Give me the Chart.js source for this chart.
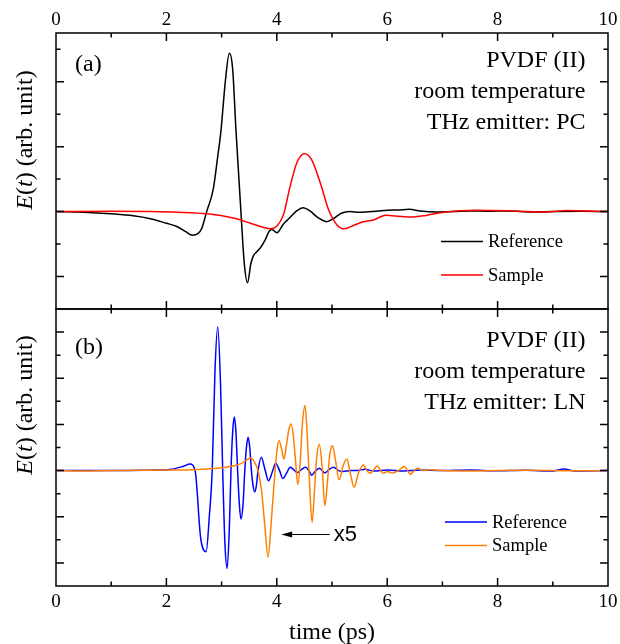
<!DOCTYPE html>
<html>
<head>
<meta charset="utf-8">
<script src="https://cdn.jsdelivr.net/npm/chart.js@4/dist/chart.umd.min.js"></script>
<style>
  body { margin: 0; background: #fff; }
  #wrap { position: relative; width: 620px; height: 644px; }
  canvas { position: absolute; left: 0; }
  #top { top: 0; }
  #bottom { top: 308px; }
</style>
</head>
<body>
<div id="wrap">
  <canvas id="top" width="620" height="310"></canvas>
  <canvas id="bottom" width="620" height="336"></canvas>
</div>
<script>
// x tick labels (ps)
const timeTicks = [0, 2, 4, 6, 8, 10];

// (a) PC emitter
const refA_t = [0, 0.5, 1.0, 1.4, 1.71, 2.0, 2.19, 2.35, 2.47, 2.57, 2.64, 2.73, 2.85, 2.93, 2.99, 3.03, 3.07, 3.14, 3.2, 3.26, 3.35, 3.41, 3.47, 3.53, 3.58, 3.63, 3.7, 3.79, 3.86, 3.91, 4.0, 4.12, 4.21, 4.36, 4.48, 4.6, 4.75, 4.9, 5.05, 5.17, 5.32, 5.5, 5.8, 6.0, 6.2, 6.4, 6.6, 6.9, 7.2, 7.5, 7.8, 8.2, 8.6, 9.0, 9.5, 10];
const refA_E = [0, -0.02, -0.07, -0.13, -0.22, -0.36, -0.46, -0.62, -0.73, -0.68, -0.52, 0, 0.7, 1.7, 2.51, 3.3, 4.05, 4.88, 4.4, 2.51, 0, -1.58, -2.19, -1.6, -1.35, -1.25, -1.12, -0.87, -0.61, -0.55, -0.65, -0.38, -0.23, 0.02, 0.12, 0.02, -0.19, -0.31, -0.19, -0.05, 0, -0.02, 0.01, 0.04, 0.05, 0.07, 0.02, -0.01, 0, 0.02, 0.01, 0.02, -0.01, 0, 0.01, 0];
const sampleA_t = [0, 1.0, 1.71, 2.2, 2.74, 3.21, 3.51, 3.75, 3.88, 4.0, 4.12, 4.24, 4.36, 4.5, 4.63, 4.79, 4.94, 5.09, 5.22, 5.4, 5.55, 5.75, 5.97, 6.1, 6.42, 6.7, 7.0, 7.6, 8.3, 8.9, 9.26, 10];
const sampleA_E = [0, 0.01, 0, -0.02, -0.07, -0.2, -0.35, -0.48, -0.53, -0.45, -0.1, 0.77, 1.49, 1.78, 1.6, 0.87, 0.05, -0.41, -0.53, -0.42, -0.32, -0.26, -0.11, -0.13, -0.17, -0.12, -0.03, 0.04, 0.02, -0.01, 0.03, 0];

// (b) LN emitter, sample is x5
const refB_t = [0, 1.0, 1.8, 2.1, 2.3, 2.43, 2.52, 2.62, 2.72, 2.78, 2.83, 2.88, 2.93, 2.98, 3.02, 3.06, 3.10, 3.14, 3.17, 3.2, 3.23, 3.26, 3.29, 3.32, 3.35, 3.39, 3.42, 3.45, 3.48, 3.51, 3.54, 3.57, 3.60, 3.63, 3.66, 3.72, 3.78, 3.85, 3.92, 3.98, 4.05, 4.11, 4.18, 4.24, 4.3, 4.37, 4.45, 4.52, 4.58, 4.63, 4.7, 4.77, 4.87, 4.95, 5.03, 5.12, 5.2, 5.35, 5.45, 5.6, 5.75, 6.0, 6.3, 6.6, 7.0, 7.5, 8.0, 8.5, 9.0, 9.2, 9.4, 10];
const refB_E = [0, 0, 0.02, 0.06, 0.18, 0.28, 0, -2.9, -3.52, -1.9, 0, 4.3, 6.23, 3.8, 0, -3.15, -4.24, -2.5, 0, 1.65, 2.32, 1.65, 0, -1.4, -2.1, -1.4, 0, 1.0, 1.44, 1.0, 0, -0.65, -0.92, -0.65, 0, 0.58, 0.1, -0.44, -0.05, 0.32, 0, -0.34, -0.1, 0.14, 0.05, -0.08, 0.05, 0.14, 0, -0.2, -0.02, 0.1, -0.1, 0.05, 0.14, 0, -0.04, 0, 0, 0.06, -0.02, 0.03, -0.02, 0.02, 0, 0.02, -0.01, 0.01, -0.02, 0.07, -0.02, 0];
const sampleB_t = [0, 0.5, 1.0, 1.5, 2.0, 2.5, 2.8, 3.0, 3.2, 3.35, 3.45, 3.53, 3.6, 3.66, 3.72, 3.78, 3.84, 3.9, 3.94, 3.97, 4.0, 4.04, 4.09, 4.13, 4.18, 4.22, 4.26, 4.3, 4.34, 4.38, 4.42, 4.46, 4.51, 4.55, 4.59, 4.64, 4.68, 4.72, 4.77, 4.82, 4.87, 4.92, 4.96, 5.01, 5.06, 5.13, 5.2, 5.27, 5.33, 5.40, 5.48, 5.57, 5.63, 5.69, 5.76, 5.82, 5.88, 5.93, 6.0, 6.1, 6.2, 6.31, 6.37, 6.42, 6.49, 6.55, 6.65, 6.8, 7.0, 7.5, 8.0, 8.5, 9.0, 9.5, 10];
const sampleB_E = [0, -0.02, 0, 0.01, 0.02, 0.04, 0.08, 0.12, 0.2, 0.3, 0.45, 0.54, 0.35, 0, -0.8, -2.3, -3.74, -2.2, -0.9, 0, 0.8, 1.3, 0.9, 0.5, 1.2, 1.8, 2.02, 1.5, 0.4, -0.6, 0.2, 1.9, 2.82, 1.6, -0.4, -2.24, -1.0, 0.5, 1.14, 0.2, -1.52, -0.4, 0.7, 1.08, 0.5, -0.4, 0.2, 0.5, -0.1, -0.72, -0.1, 0.24, 0, -0.12, 0.05, 0.2, 0, -0.12, -0.04, -0.1, 0, 0.18, 0, -0.16, 0, 0.1, 0, 0.04, 0, -0.02, 0, 0.01, 0, -0.01, 0];

const serif = '"Liberation Serif", "Times New Roman", serif';
Chart.defaults.font.family = serif;
Chart.defaults.color = '#000';

const pts = (t, e) => t.map((v, i) => ({x: v, y: e[i]}));

function series(label, t, e, color, order) {
  return {
    label: label,
    data: pts(t, e),
    borderColor: color,
    borderWidth: 1.5,
    pointRadius: 0,
    cubicInterpolationMode: 'monotone',
    order: order
  };
}

// frame with inward ticks, panel texts, legend, y title, arrow
const deco = {
  id: 'deco',
  afterDraw(chart, args, o) {
    const {ctx, chartArea: a} = chart;
    const xs = chart.scales.x, ys = chart.scales.y;
    ctx.save();
    ctx.strokeStyle = '#000';
    ctx.lineWidth = 1.5;
    ctx.beginPath();
    for (let t = 1; t < 10; t++) {
      const px = xs.getPixelForValue(t);
      const len = t % 2 ? 4.5 : 8;
      ctx.moveTo(px, a.top); ctx.lineTo(px, a.top + len);
      ctx.moveTo(px, a.bottom); ctx.lineTo(px, a.bottom - len);
    }
    for (let v = Math.ceil(ys.min + 0.01); v < ys.max; v++) {
      const py = ys.getPixelForValue(v);
      const len = Math.abs(v) % 2 ? 4.5 : 8;
      ctx.moveTo(a.left, py); ctx.lineTo(a.left + len, py);
      ctx.moveTo(a.right, py); ctx.lineTo(a.right - len, py);
    }
    ctx.stroke();
    ctx.strokeRect(a.left, a.top, a.right - a.left, a.bottom - a.top);

    ctx.fillStyle = '#000';
    ctx.font = '24px ' + serif;
    ctx.textBaseline = 'alphabetic';
    ctx.textAlign = 'left';
    ctx.fillText(o.tag, a.left + 19, a.top + o.tagY);
    ctx.textAlign = 'right';
    o.lines.forEach((s, i) => ctx.fillText(s, a.right - 22.5, a.top + o.lineY[i]));

    // legend
    ctx.font = '18.5px ' + serif;
    ctx.textAlign = 'left';
    ctx.textBaseline = 'middle';
    chart.data.datasets.forEach((ds, i) => {
      const y = a.top + o.legendY[i];
      ctx.strokeStyle = ds.borderColor;
      ctx.lineWidth = 1.5;
      ctx.beginPath();
      ctx.moveTo(a.left + o.legendX, y);
      ctx.lineTo(a.left + o.legendX + 42, y);
      ctx.stroke();
      ctx.fillText(ds.label, a.left + o.legendX + 47, y + 1);
    });

    // y title with italic E and t
    const segs = [['E', 'italic '], ['(', ''], ['t', 'italic '], [') (arb. unit)', '']];
    ctx.translate(o.titleX, o.titleY);
    ctx.rotate(-Math.PI / 2);
    let w = 0;
    segs.forEach(s => { ctx.font = s[1] + '24px ' + serif; w += ctx.measureText(s[0]).width; });
    let x = -w / 2;
    ctx.textAlign = 'left';
    segs.forEach(s => {
      ctx.font = s[1] + '24px ' + serif;
      ctx.fillText(s[0], x, 0);
      x += ctx.measureText(s[0]).width;
    });
    ctx.setTransform(1, 0, 0, 1, 0, 0);

    if (o.arrow) {
      const x1 = xs.getPixelForValue(o.arrow.from[0]);
      const x2 = xs.getPixelForValue(o.arrow.to[0]);
      const y = ys.getPixelForValue(o.arrow.from[1]);
      ctx.strokeStyle = '#000';
      ctx.fillStyle = '#000';
      ctx.lineWidth = 1;
      ctx.beginPath();
      ctx.moveTo(x1, y); ctx.lineTo(x2 + 8, y);
      ctx.stroke();
      ctx.beginPath();
      ctx.moveTo(x2, y); ctx.lineTo(x2 + 11, y - 3); ctx.lineTo(x2 + 11, y + 3);
      ctx.closePath();
      ctx.fill();
      ctx.font = '22px "Liberation Sans", Arial, sans-serif';
      ctx.textBaseline = 'middle';
      ctx.fillText(o.arrow.text, x1 + 4, y);
    }
    ctx.restore();
  }
};

const tickFont = {family: serif, size: 19};

// fixed axis height, and no extra side room for the end labels
function fixHeight(h) {
  return s => { s.height = h; s.paddingLeft = 0; s.paddingRight = 0; };
}

function xScale(position, showLabels, extra) {
  return Object.assign({
    type: 'linear',
    position: position,
    min: 0,
    max: 10,
    display: showLabels,
    grid: {display: false, drawTicks: false},
    border: {display: false},
    ticks: {
      stepSize: 2,
      autoSkip: false,
      maxRotation: 0,
      font: tickFont,
      color: '#000',
      padding: position === 'top' ? 2 : 5,
      callback: v => timeTicks.includes(v) ? String(v) : ''
    }
  }, extra || {});
}

new Chart(document.getElementById('top'), {
  type: 'line',
  data: {
    datasets: [
      series('Reference', refA_t, refA_E, '#000000', 2),
      series('Sample', sampleA_t, sampleA_E, '#ff0000', 1)
    ]
  },
  options: {
    responsive: false,
    animation: false,
    layout: {padding: {left: 56, right: 12, top: 0, bottom: 1}},
    scales: {
      x: xScale('bottom', false),
      xTop: xScale('top', true, {afterFit: fixHeight(33)}),
      y: {type: 'linear', min: -3, max: 5.5, display: false}
    },
    plugins: {
      legend: {display: false},
      tooltip: {enabled: false},
      deco: {
        tag: '(a)', tagY: 38,
        lines: ['PVDF (II)', 'room temperature', 'THz emitter: PC'],
        lineY: [34, 65, 96],
        legendX: 385, legendY: [208.5, 242],
        titleX: 26, titleY: 140
      }
    }
  },
  plugins: [deco]
});

new Chart(document.getElementById('bottom'), {
  type: 'line',
  data: {
    datasets: [
      series('Reference', refB_t, refB_E, '#0000ff', 2),
      series('Sample', sampleB_t, sampleB_E, '#ff8000', 1)
    ]
  },
  options: {
    responsive: false,
    animation: false,
    layout: {padding: {left: 56, right: 12, top: 1, bottom: 0}},
    scales: {
      x: xScale('bottom', true, {
        title: {display: true, text: 'time (ps)', font: {family: serif, size: 24, lineHeight: 1}, padding: {top: 0, bottom: -1}},
        afterFit: fixHeight(58)
      }),
      y: {type: 'linear', min: -5, max: 7, display: false}
    },
    plugins: {
      legend: {display: false},
      tooltip: {enabled: false},
      deco: {
        tag: '(b)', tagY: 45,
        lines: ['PVDF (II)', 'room temperature', 'THz emitter: LN'],
        lineY: [38, 69, 100],
        legendX: 389, legendY: [213, 236.5],
        titleX: 26, titleY: 97,
        arrow: {from: [4.96, -2.77], to: [4.08, -2.77], text: 'x5'}
      }
    }
  },
  plugins: [deco]
});
</script>
</body>
</html>
